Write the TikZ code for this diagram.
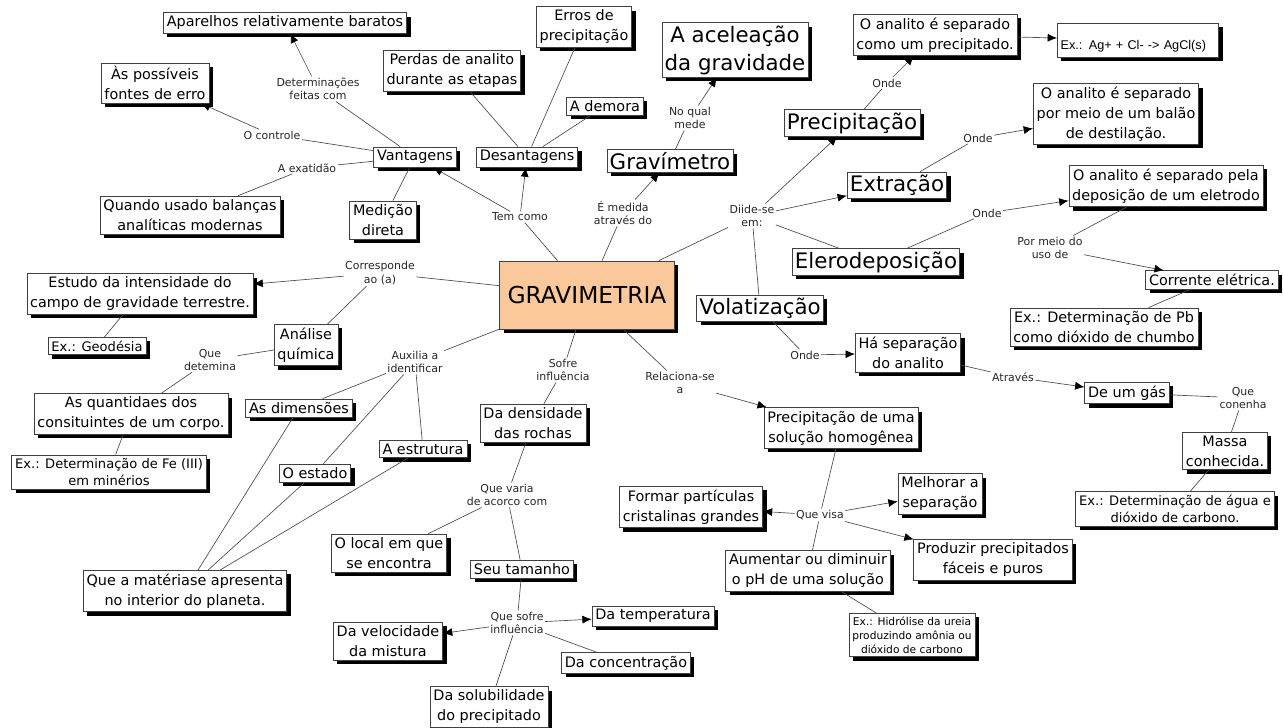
\documentclass[tikz,border=0pt]{standalone}
\usepackage{fontspec}
\setmainfont{DejaVu Sans}
\newfontfamily\arialf{Liberation Sans}
\usetikzlibrary{arrows,arrows.meta,shapes,shadows,positioning}
\definecolor{laranja}{RGB}{250,200,155}

\begin{document}
\begin{tikzpicture}[x=0.75pt,y=-0.75pt,
        caixa/.style={draw=black!75,line width=0.5pt,fill=white,align=center,inner sep=2.5pt,
          font=\fontsize{10.8}{15}\selectfont,
          drop shadow={shadow xshift=3pt,shadow yshift=-3pt,fill=black,opacity=1}},
        caixag/.style={caixa,font=\fontsize{16}{21}\selectfont,inner sep=2pt},
        caixap/.style={caixa,font=\fontsize{9.8}{13}\selectfont},
        rot/.style={align=center,inner sep=1pt,font=\fontsize{8.2}{10}\selectfont,text=black!85},
        lin/.style={draw=black!70,line width=0.5pt},
        seta/.style={lin,-{Latex[length=7pt,width=6pt,color=black]}}]
        \useasboundingbox (0,0) rectangle (1283,728);

        \node[caixa,fill=laranja,font=\fontsize{17.5}{20}\selectfont,
          minimum width=131pt,minimum height=51pt] (grav) at (587,295) {GRAVIMETRIA};

        \node[caixa] (apar) at (285,23) {Aparelhos relativamente baratos};
        \node[caixa] (fontes) at (155,83) {Às possíveis\\fontes de erro};
        \node[caixa] (vant) at (415,157) {Vantagens};
        \node[caixa] (quando) at (190,215) {Quando usado balanças\\analíticas modernas};
        \node[caixa] (medic) at (383,220) {Medição\\direta};
        \node[rot] (l_determ) at (318,89) {Determinações\\feitas com};
        \node[rot] (l_contr) at (272,135) {O controle};
        \node[rot] (l_exat) at (307,168) {A exatidão};

        \node[caixa] (perdas) at (452,71) {Perdas de analito\\durante as etapas};
        \node[caixa] (erros) at (584,27) {Erros de\\precipitação};
        \node[caixa] (demora) at (605,106) {A demora};
        \node[caixa] (desv) at (527,157) {Desantagens};
        \node[rot] (l_tem) at (520,217) {Tem como};

        \node[caixag] (gravim) at (670,161) {Gravímetro};
        \node[caixag] (acel) at (735,50) {A aceleação\\da gravidade};
        \node[rot] (l_medida) at (623,213) {É medida\\através do};
        \node[rot] (l_qual) at (690,118) {No qual\\mede};

        \node[rot] (l_diide) at (752,216) {Diide-se\\em:};
        \node[caixag] (precip) at (852,123) {Precipitação};
        \node[caixa] (anal1) at (935,35) {O analito é separado\\como um precipitado.};
        \node[caixa,font=\arialf\fontsize{9.5}{11}\selectfont,align=left,
          text width=116pt,text height=17pt,text depth=3.5pt] (exag) at (1138,40) {Ex.: Ag+ + Cl- -> AgCl(s)};
        \node[rot] (l_onde1) at (887,83) {Onde};
        \node[caixag] (extr) at (897,185) {Extração};
        \node[caixa] (anal2) at (1116,114) {O analito é separado\\por meio de um balão\\de destilação.};
        \node[rot] (l_onde2) at (978,138) {Onde};
        \node[caixag] (elero) at (876,262) {Elerodeposição};
        \node[caixa] (anal3) at (1166,186) {O analito é separado pela\\deposição de um eletrodo};
        \node[rot] (l_onde3) at (987,213) {Onde};
        \node[rot] (l_pormeio) at (1050,248) {Por meio do\\uso de};
        \node[caixa] (corr) at (1212,280) {Corrente elétrica.};
        \node[caixa] (expb) at (1104,327) {Ex.: Determinação de Pb\\como dióxido de chumbo};
        \node[caixag] (volat) at (760,308) {Volatização};
        \node[rot] (l_onde4) at (805,355) {Onde};
        \node[caixa] (hasep) at (908,353) {Há separação\\do analito};
        \node[rot] (l_atrav) at (1013,377) {Através};
        \node[caixa] (gas) at (1127,393) {De um gás};
        \node[rot] (l_conenha) at (1243,398) {Que\\conenha};
        \node[caixa] (massa) at (1225,451) {Massa\\conhecida.};
        \node[caixap] (exagua) at (1175,509) {Ex.: Determinação de água e\\dióxido de carbono.};

        \node[rot] (l_corresp) at (380,273) {Corresponde\\ao (a)};
        \node[caixa] (estudo) at (140,294) {Estudo da intensidade do\\campo de gravidade terrestre.};
        \node[caixap] (geod) at (97,346) {Ex.: Geodésia};
        \node[caixa] (analise) at (306,345) {Análise\\química};
        \node[rot] (l_detem) at (210,360) {Que\\detemina};
        \node[caixa] (quant) at (131,414) {As quantidaes dos\\consituintes de um corpo.};
        \node[caixap] (exfe) at (109,472) {Ex.: Determinação de Fe (III)\\em minérios};
        \node[rot] (l_aux) at (415,362) {Auxilia a\\identificar};
        \node[caixa] (dimen) at (299,408) {As dimensões};
        \node[caixa] (estado) at (315,473) {O estado};
        \node[caixa] (estrut) at (423,449) {A estrutura};
        \node[caixa] (materia) at (185,591) {Que a matériase apresenta\\no interior do planeta.};

        \node[rot] (l_sofre) at (563,370) {Sofre\\influência};
        \node[caixa] (dens) at (533,423) {Da densidade\\das rochas};
        \node[rot] (l_varia) at (507,495) {Que varia\\de acorco com};
        \node[caixa] (local) at (389,553) {O local em que\\se encontra};
        \node[caixa] (tamanho) at (522,569) {Seu tamanho};
        \node[rot] (l_sofre2) at (517,623) {Que sofre\\influência};
        \node[caixa] (temp) at (653,616) {Da temperatura};
        \node[caixa] (veloc) at (388,641) {Da velocidade\\da mistura};
        \node[caixa] (conc) at (626,663) {Da concentração};
        \node[caixa] (solub) at (489,707) {Da solubilidade\\do precipitado};

        \node[rot] (l_relac) at (680,383) {Relaciona-se\\a};
        \node[caixa] (homog) at (841,428) {Precipitação de uma\\solução homogênea};
        \node[rot] (l_visa) at (820,515) {Que visa};
        \node[caixa] (formar) at (691,507) {Formar partículas\\cristalinas grandes};
        \node[caixa] (melhor) at (940,494) {Melhorar a\\separação};
        \node[caixa] (produz) at (993,560) {Produzir precipitados\\fáceis e puros};
        \node[caixa] (aument) at (808,571) {Aumentar ou diminuir\\o pH de uma solução};
        \node[caixa,font=\fontsize{8}{10.5}\selectfont] (exhidr) at (912,635)
          {Ex.: Hidrólise da ureia\\produzindo amônia ou\\dióxido de carbono};

        \draw[lin] (grav) -- (l_tem);
        \draw[seta] (l_tem) -- (vant);
        \draw[seta] (l_tem) -- (desv);
        \draw[lin] (vant) -- (l_determ);
        \draw[seta] (l_determ) -- (apar);
        \draw[lin] (vant) -- (l_contr);
        \draw[seta] (l_contr) -- (fontes);
        \draw[lin] (vant) -- (l_exat) -- (quando);
        \draw[lin] (vant) -- (medic);
        \draw[lin] (desv) -- (perdas);
        \draw[lin] (desv) -- (erros);
        \draw[lin] (desv) -- (demora);

        \draw[lin] (grav) -- (l_medida);
        \draw[seta] (l_medida) -- (gravim);
        \draw[lin] (gravim) -- (l_qual);
        \draw[seta] (l_qual) -- (acel);

        \draw[lin] (grav) -- (l_diide);
        \draw[seta] (l_diide) -- (precip);
        \draw[seta] (l_diide) -- (extr);
        \draw[lin] (l_diide) -- (elero);
        \draw[lin] (l_diide) -- (volat);
        \draw[lin] (precip) -- (l_onde1);
        \draw[seta] (l_onde1) -- (anal1);
        \draw[seta] (anal1) -- (exag);
        \draw[lin] (extr) -- (l_onde2);
        \draw[seta] (l_onde2) -- (anal2);
        \draw[lin] (elero) -- (l_onde3);
        \draw[seta] (l_onde3) -- (anal3);
        \draw[lin] (anal3) -- (l_pormeio);
        \draw[seta] (l_pormeio) -- (corr);
        \draw[lin] (corr) -- (expb);
        \draw[lin] (volat) -- (l_onde4);
        \draw[seta] (l_onde4) -- (hasep);
        \draw[lin] (hasep) -- (l_atrav);
        \draw[seta] (l_atrav) -- (gas);
        \draw[lin] (gas) -- (l_conenha) -- (massa);
        \draw[lin] (massa) -- (exagua);

        \draw[lin] (grav) -- (l_corresp);
        \draw[seta] (l_corresp) -- (estudo);
        \draw[lin] (l_corresp) -- (analise);
        \draw[lin] (estudo) -- (geod);
        \draw[lin] (analise) -- (l_detem) -- (quant);
        \draw[lin] (quant) -- (exfe);
        \draw[lin] (grav) -- (l_aux);
        \draw[lin] (l_aux) -- (dimen);
        \draw[lin] (l_aux) -- (estado);
        \draw[lin] (l_aux) -- (estrut);
        \draw[lin] (dimen) -- (materia);
        \draw[lin] (estado) -- (materia);
        \draw[lin] (estrut) -- (materia);

        \draw[lin] (grav) -- (l_sofre) -- (dens);
        \draw[lin] (dens) -- (l_varia);
        \draw[lin] (l_varia) -- (local);
        \draw[lin] (l_varia) -- (tamanho);
        \draw[lin] (tamanho) -- (l_sofre2);
        \draw[seta] (l_sofre2) -- (temp);
        \draw[seta] (l_sofre2) -- (veloc);
        \draw[lin] (l_sofre2) -- (conc);
        \draw[lin] (l_sofre2) -- (solub);

        \draw[lin] (grav) -- (l_relac);
        \draw[seta] (l_relac) -- (homog);
        \draw[lin] (homog) -- (l_visa) -- (aument);
        \draw[seta] (l_visa) -- (formar);
        \draw[seta] (l_visa) -- (melhor);
        \draw[seta] (l_visa) -- (produz);
        \draw[lin] (aument) -- (exhidr);
      \end{tikzpicture}
\end{document}
